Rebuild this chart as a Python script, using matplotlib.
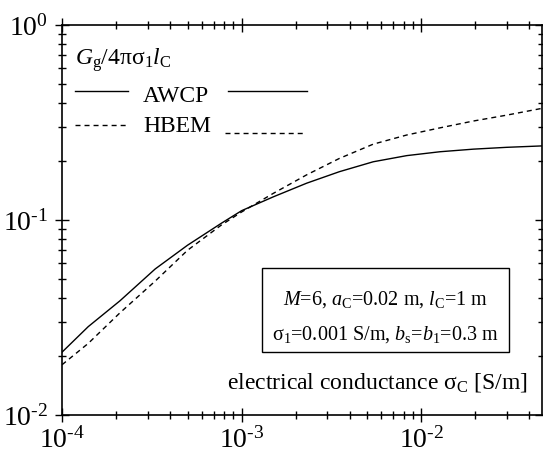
import matplotlib
matplotlib.use("Agg")
import matplotlib.pyplot as plt
import numpy as np
from matplotlib.lines import Line2D
from matplotlib.patches import Rectangle
from matplotlib.ticker import LogLocator, NullFormatter, FuncFormatter

plt.rcParams['font.family'] = ['Liberation Serif', 'DejaVu Serif']
plt.rcParams['mathtext.fontset'] = 'custom'
plt.rcParams['mathtext.rm'] = 'Liberation Serif'
plt.rcParams['mathtext.it'] = 'Liberation Serif:italic'
plt.rcParams['mathtext.bf'] = 'Liberation Serif:bold'

# conductance sigma_C [S/m]
sigma_c = [1.0e-4, 1.4e-4, 2.1e-4, 3.3e-4, 5.0e-4, 7.7e-4, 1.0e-3, 1.5e-3,
           2.3e-3, 3.5e-3, 5.4e-3, 8.3e-3, 1.27e-2, 1.95e-2, 2.98e-2, 4.7e-2]
# normalised grounding conductance
awcp = [0.0210, 0.0284, 0.0385, 0.0561, 0.0743, 0.0962, 0.1117, 0.1315,
        0.1545, 0.177, 0.199, 0.214, 0.224, 0.231, 0.236, 0.240]
hbem = [0.0181, 0.0233, 0.0334, 0.0486, 0.0700, 0.0942, 0.1100, 0.137,
        0.1705, 0.207, 0.245, 0.273, 0.297, 0.322, 0.345, 0.374]
names = ['AWCP', 'HBEM']

dash = (0, (3.6, 2.9))


def pow10(v, pos):
    # superscript with a plain hyphen, like the original
    return r'$10^{\text{%d}}$' % int(round(np.log10(v)))


fig = plt.figure(figsize=(5.43, 4.55), dpi=100)
ax = fig.add_axes([0.1142, 0.0879, 0.884, 0.857])

ax.plot(sigma_c, awcp, color='black', lw=1.0)
ax.plot(sigma_c, hbem, color='black', lw=1.0, linestyle=dash)

ax.set_xscale('log')
ax.set_yscale('log')
ax.set_xlim(1e-4, 0.047)
ax.set_ylim(1e-2, 1)

for s in ax.spines.values():
    s.set_linewidth(1.2)
ax.tick_params(which='major', direction='inout', length=10, width=1.0,
               top=True, right=True, labelsize=20)
ax.tick_params(which='minor', direction='inout', length=6, width=1.0,
               top=True, right=True)
ax.tick_params(axis='x', which='major', pad=4)
ax.tick_params(axis='y', which='major', pad=5)
ax.xaxis.set_minor_locator(LogLocator(base=10, subs=range(2, 10)))
ax.yaxis.set_minor_locator(LogLocator(base=10, subs=range(2, 10)))
ax.xaxis.set_minor_formatter(NullFormatter())
ax.yaxis.set_minor_formatter(NullFormatter())
ax.xaxis.set_major_formatter(FuncFormatter(pow10))
ax.yaxis.set_major_formatter(FuncFormatter(pow10))

# quantity label
ax.text(0.027, 0.898, r'$G_\mathrm{g}/4\mathrm{\pi\sigma}_1 l_\mathrm{C}$',
        transform=ax.transAxes, fontsize=17, ha='left', va='baseline')

# legend drawn by hand: stroke, label, stroke
tr = ax.transAxes
ax.add_line(Line2D([0.027, 0.1375], [0.8315, 0.8315], transform=tr, color='black', lw=1.0))
ax.text(0.169, 0.803, names[0], transform=tr, fontsize=17, ha='left', va='baseline')
ax.add_line(Line2D([0.346, 0.510], [0.8315, 0.8315], transform=tr, color='black', lw=1.0))
ax.add_line(Line2D([0.027, 0.1375], [0.743, 0.743], transform=tr, color='black',
                   lw=1.0, linestyle=dash))
ax.text(0.169, 0.726, names[1], transform=tr, fontsize=17, ha='left', va='baseline')
ax.add_line(Line2D([0.340, 0.506], [0.724, 0.724], transform=tr, color='black',
                   lw=1.0, linestyle=dash))

# parameter box
ax.add_patch(Rectangle((0.4167, 0.1615), 0.5143, 0.2155, transform=tr,
                       fc='white', ec='black', lw=1.0, zorder=3))
ax.text(0.674, 0.251,
        '$M$=6, $a_\\mathrm{C}$=0.02 m, $l_\\mathrm{C}$=1 m\n'
        '$\\mathrm{\\sigma}_1$=0.001 S/m, $b_\\mathrm{s}$=$b_1$=0.3 m',
        transform=tr, fontsize=14.5, ha='center', va='center',
        linespacing=1.9, zorder=4)

ax.text(0.97, 0.069, r'electrical conductance $\mathrm{\sigma}_\mathrm{C}$ [S/m]',
        transform=tr, fontsize=17, ha='right', va='baseline')

fig.savefig('out.png', dpi=100)
